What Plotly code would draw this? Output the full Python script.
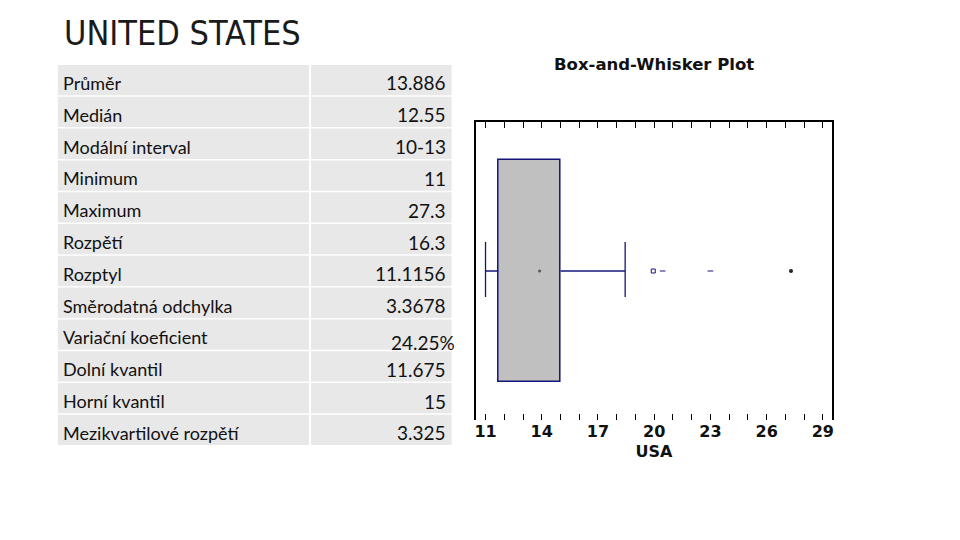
import plotly.graph_objects as go

# ---------------- data ----------------
page_title = "UNITED STATES"
stat_labels = ["Průměr", "Medián", "Modální interval", "Minimum", "Maximum", "Rozpětí",
               "Rozptyl", "Směrodatná odchylka", "Variační koeficient", "Dolní kvantil",
               "Horní kvantil", "Mezikvartilové rozpětí"]
stat_values = ["13.886", "12.55", "10-13", "11", "27.3", "16.3", "11.1156", "3.3678",
               "24.25%", "11.675", "15", "3.325"]

chart_title = "Box-and-Whisker Plot"
axis_title = "USA"
box_min = 11.0
box_q1 = 11.675
box_q3 = 15.0
box_upper_whisker = 18.45
box_mean = 13.886
outliers_near = [19.95]
outliers_dash = [20.45, 23.0]
outliers_far = [27.3]
tick_values = [11, 14, 17, 20, 23, 26, 29]
tick_labels = ["11", "14", "17", "20", "23", "26", "29"]

# ---------------- layout helpers ----------------
W, H = 960, 540
OFF = 8  # page body margin
def px(x):
    return (x - OFF) / W
def py(y):
    return 1 - (y - OFF) / H

NAVY = "#14147a"
BOLD = dict(family="DejaVu Sans", size=16, color="#111111", weight="bold")
fig = go.Figure()

# box body
fig.add_trace(go.Bar(
    x=[box_q3 - box_q1], base=[box_q1], y=[0.5], orientation="h", width=0.745,
    marker=dict(color="#c0c0c0", line=dict(color=NAVY, width=1.5)),
    hoverinfo="skip", showlegend=False))
# whiskers
fig.add_trace(go.Scatter(x=[box_min, box_q1], y=[0.5, 0.5], mode="lines",
                         line=dict(color=NAVY, width=1.3), showlegend=False))
fig.add_trace(go.Scatter(x=[box_q3, box_upper_whisker], y=[0.5, 0.5], mode="lines",
                         line=dict(color=NAVY, width=1.3), showlegend=False))
fig.add_trace(go.Scatter(x=[box_min, box_min], y=[0.413, 0.597], mode="lines",
                         line=dict(color=NAVY, width=1.3), showlegend=False))
fig.add_trace(go.Scatter(x=[box_upper_whisker, box_upper_whisker], y=[0.413, 0.597], mode="lines",
                         line=dict(color=NAVY, width=1.3), showlegend=False))
# mean
fig.add_trace(go.Scatter(x=[box_mean], y=[0.5], mode="markers",
                         marker=dict(color="#555555", size=3, symbol="circle"), showlegend=False))
# outliers
fig.add_trace(go.Scatter(x=outliers_near, y=[0.5] * len(outliers_near), mode="markers",
                         marker=dict(symbol="square-open", size=4, color=NAVY, line=dict(width=1, color=NAVY)),
                         showlegend=False))
fig.add_trace(go.Scatter(x=outliers_dash, y=[0.5] * len(outliers_dash), mode="markers",
                         marker=dict(symbol="line-ew", size=4, color=NAVY, line=dict(width=1, color=NAVY)),
                         showlegend=False))
fig.add_trace(go.Scatter(x=outliers_far, y=[0.5] * len(outliers_far), mode="markers",
                         marker=dict(symbol="circle", size=4, color="#222222"), showlegend=False))
# invisible trace for the top axis
fig.add_trace(go.Scatter(x=[box_min], y=[0.5], xaxis="x2", mode="markers",
                         marker=dict(opacity=0), hoverinfo="skip", showlegend=False))

xr = [10.467, 29.51]
fig.update_layout(
    width=W, height=H, margin=dict(l=0, r=0, t=0, b=0),
    paper_bgcolor="white", plot_bgcolor="white",
    xaxis=dict(domain=[px(476), px(834)], range=xr, showgrid=False, zeroline=False,
               showline=False, ticks="inside", ticklen=6, tickcolor="black", tickwidth=1,
               tickvals=tick_values, ticktext=tick_labels,
               minor=dict(dtick=1, tick0=11, ticks="inside", ticklen=6, tickcolor="black", showgrid=False),
               tickfont=BOLD,
               title=dict(text=axis_title, standoff=5, font=BOLD)),
    xaxis2=dict(overlaying="x", side="top", anchor="y", range=xr, showgrid=False, zeroline=False,
                showline=True, linecolor="black", linewidth=1.5, ticks="inside", ticklen=6,
                tickcolor="black", tickvals=tick_values, showticklabels=False,
                minor=dict(dtick=1, tick0=11, ticks="inside", ticklen=6, tickcolor="black", showgrid=False)),
    yaxis=dict(domain=[py(420), py(122)], range=[0, 1], showgrid=False, zeroline=False,
               showline=True, mirror=True, linecolor="black", linewidth=1.5,
               showticklabels=False, ticks=""),
    bargap=0,
)

# table background cells
shapes = []
row_top0, row_h = 65.0, 31.8
for i in range(len(stat_labels)):
    y0 = row_top0 + row_h * i
    y1 = y0 + row_h - 1.5
    for x0, x1 in [(57, 309), (311, 452)]:
        shapes.append(dict(type="rect", xref="paper", yref="paper",
                           x0=px(x0), x1=px(x1), y0=py(y1), y1=py(y0),
                           fillcolor="#e8e8e8", line=dict(width=0), layer="below"))
fig.update_layout(shapes=shapes)

annotations = []
annotations.append(dict(text=page_title, x=px(61), y=py(33), xref="paper", yref="paper",
                        xanchor="left", yanchor="middle", showarrow=False,
                        font=dict(family="DejaVu Sans Condensed, Liberation Sans Narrow, sans-serif",
                                  size=34, color="#1a1a1a")))
annotations.append(dict(text=chart_title, x=px(655), y=py(65), xref="paper", yref="paper",
                        xanchor="center", yanchor="middle", showarrow=False,
                        font=dict(family="DejaVu Sans", size=16.5, color="#111111", weight="bold")))
value_dx = [0] * len(stat_values)
value_dy = [0] * len(stat_values)
value_dx[8] = 9
value_dy[8] = 5
for i, (lab, val) in enumerate(zip(stat_labels, stat_values)):
    yc = row_top0 + row_h * i + 18
    annotations.append(dict(text=lab, x=px(60), y=py(yc), xref="paper", yref="paper",
                            xanchor="left", yanchor="middle", showarrow=False,
                            font=dict(family="Lato", size=18, color="#111111")))
    annotations.append(dict(text=val, x=px(448 + value_dx[i]), y=py(yc + value_dy[i]),
                            xref="paper", yref="paper", xanchor="right", yanchor="middle",
                            showarrow=False, font=dict(family="Lato", size=19, color="#111111")))
fig.update_layout(annotations=annotations)

fig.write_html("out.html")
